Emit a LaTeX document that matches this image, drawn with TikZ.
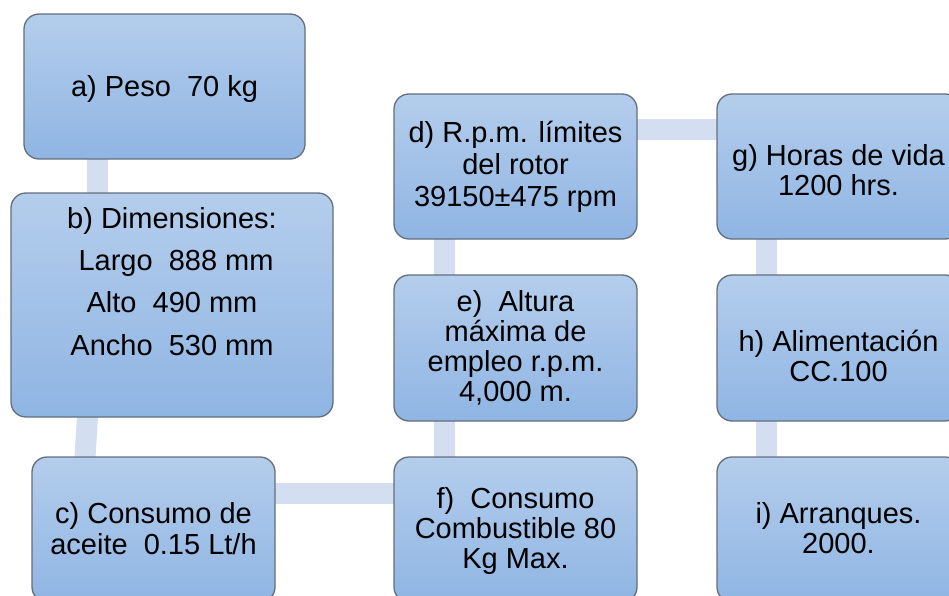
\documentclass[tikz,border=0pt]{standalone}
\usepackage{fontspec}
\setmainfont{Liberation Sans}
\usetikzlibrary{backgrounds}

\definecolor{boxtop}{RGB}{180,205,236}
\definecolor{boxbottom}{RGB}{143,181,227}
\definecolor{boxedge}{RGB}{100,110,125}
\definecolor{linkfill}{RGB}{211,223,240}

% every text line gets a fixed cap-height strut, so a block centres on its capitals
\newcommand\capline[1]{\smash{#1}\rule{0pt}{20.6pt}}

\tikzset{
  card/.style={draw=boxedge, line width=1.3pt, rounded corners=15pt,
    top color=boxtop, bottom color=boxbottom,
    inner sep=0pt, outer sep=0pt},
  cardtext/.style={align=center, inner sep=0pt, text=black,
    font=\fontsize{29pt}{#1}\selectfont},
  cardtext/.default=30pt,
  link/.style={draw=linkfill, line width=21pt,
    shorten <=-4pt, shorten >=-4pt},
}

\begin{document}
\begin{tikzpicture}[x=1pt,y=-1pt]
\useasboundingbox (0,0) rectangle (949,596);
\clip (0,0) rectangle (949,596);

% boxes
\node[card, minimum width=281pt, minimum height=145pt] (a) at (164.5,86.5) {};
\node[card, minimum width=322pt, minimum height=224pt] (b) at (172,305) {};
\node[card, minimum width=243pt, minimum height=145pt] (c) at (153.5,529.5) {};
\node[card, minimum width=243pt, minimum height=145pt] (d) at (515.5,166.5) {};
\node[card, minimum width=243pt, minimum height=146pt] (e) at (515.5,348) {};
\node[card, minimum width=243pt, minimum height=145pt] (f) at (515.5,529.5) {};
\node[card, minimum width=243pt, minimum height=145pt] (g) at (838.5,166.5) {};
\node[card, minimum width=243pt, minimum height=146pt] (h) at (838.5,348) {};
\node[card, minimum width=243pt, minimum height=145pt] (i) at (838.5,529.5) {};

% box texts
\node[cardtext] (ta) at (164.5,85.8) {\capline{a) Peso~~70 kg}};
\node[cardtext=42.3pt] (tb) at (172,281.3)
  {\capline{b) Dimensiones:}\\\capline{~Largo~~888 mm}\\
   \capline{Alto~~490 mm}\\\capline{Ancho~~530 mm}};
\node[cardtext=31pt] (tc) at (153.5,528.3)
  {\capline{c) Consumo de}\\\capline{aceite~~0.15 Lt/h}};
\node[cardtext=32pt] (td) at (515.5,164.5)
  {\capline{d) R.p.m. límites}\\\capline{del rotor}\\\capline{39150±475 rpm}};
\node[cardtext] (te) at (515.5,346.5)
  {\capline{e)~~Altura}\\\capline{máxima de}\\
   \capline{empleo r.p.m.}\\\capline{4,000 m.}};
\node[cardtext] (tf) at (515.5,527.8)
  {\capline{f)~~Consumo}\\\capline{Combustible 80}\\\capline{Kg Max.}};
\node[cardtext] (tg) at (838.5,169.8)
  {\capline{g) Horas de vida}\\\capline{1200 hrs.}};
\node[cardtext] (th) at (838.5,356.5)
  {\capline{h) Alimentación}\\\capline{CC.100}};
\node[cardtext] (ti) at (838.5,527.8)
  {\capline{i) Arranques.}\\\capline{2000.}};

% connecting bars behind the boxes
\begin{pgfonlayer}{background}
\fill[white] (0,0) rectangle (949,596);
\draw[link] ([xshift=73.5pt]a.south west) -- ([xshift=86.5pt]b.north west);
\draw[link] ([xshift=76.5pt]b.south west) -- ([xshift=53pt]c.north west);
\draw[link] ([yshift=-36pt]c.north east) -- ([yshift=-36pt]f.north west);
\draw[link] ([xshift=50pt]f.north west) -- ([xshift=50pt]e.south west);
\draw[link] ([xshift=50pt]e.north west) -- ([xshift=50pt]d.south west);
\draw[link] ([yshift=-36pt]d.north east) -- ([yshift=-36pt]g.north west);
\draw[link] ([xshift=49.5pt]g.south west) -- ([xshift=49.5pt]h.north west);
\draw[link] ([xshift=49.5pt]h.south west) -- ([xshift=49.5pt]i.north west);
\end{pgfonlayer}
\end{tikzpicture}
\end{document}
